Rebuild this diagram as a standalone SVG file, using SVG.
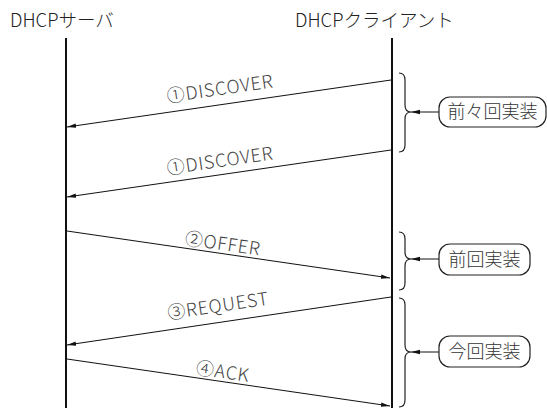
<svg xmlns="http://www.w3.org/2000/svg" width="547" height="408" viewBox="0 0 547 408">
<style>
text{font-family:"Noto Sans CJK JP","Noto Sans",sans-serif;fill:#333;font-weight:300;}
.title{font-size:18.5px;fill:#222;}
.lbl{font-size:18px;text-anchor:middle;letter-spacing:0.8px;fill:#444;}
.box text{font-size:18px;text-anchor:middle;}
.life{stroke:#111;stroke-width:2;fill:none;}
.msg{stroke:#111;stroke-width:1;fill:none;marker-end:url(#ah);}
.brace{stroke:#222;stroke-width:1.2;fill:none;}
.box rect{fill:#fff;stroke:#222;stroke-width:1.2;}
</style>
<defs>
<marker id="ah" markerWidth="10" markerHeight="6" refX="9" refY="3" orient="auto" markerUnits="userSpaceOnUse">
<path d="M0,0.8 L9,3 L0,5.2 Z" fill="#111"/>
</marker>
</defs>
<g id="server">
<text class="title" x="10" y="27">DHCPサーバ</text>
<line class="life" x1="66" y1="38" x2="66" y2="408"/>
</g>
<g id="client">
<text class="title" x="295" y="27">DHCPクライアント</text>
<line class="life" x1="392" y1="38" x2="392" y2="408"/>
</g>
<g id="connectors">
<line class="msg" x1="391" y1="80" x2="67" y2="127"/>
<text class="lbl" transform="translate(221,95) rotate(-8.28)">①DISCOVER</text>
<line class="msg" x1="391" y1="150" x2="67" y2="197"/>
<text class="lbl" transform="translate(221,167) rotate(-8.28)">①DISCOVER</text>
<line class="msg" x1="67" y1="231" x2="390" y2="278"/>
<text class="lbl" transform="translate(222,250) rotate(8.28)">②OFFER</text>
<line class="msg" x1="391" y1="297" x2="67" y2="345"/>
<text class="lbl" transform="translate(219,312) rotate(-8.45)">③REQUEST</text>
<line class="msg" x1="67" y1="359" x2="390" y2="406"/>
<text class="lbl" transform="translate(222,378) rotate(8.28)">④ACK</text>
<path class="brace" d="M399,73 Q405,73 405,80 L405,105 Q405,112 411,112 Q405,112 405,119 L405,145 Q405,152 399,152"/>
<path class="brace" d="M399,232 Q405,232 405,239 L405,252 Q405,259 411,259 Q405,259 405,266 L405,283 Q405,290 399,290"/>
<path class="brace" d="M399,298 Q405,298 405,305 L405,345 Q405,352 411,352 Q405,352 405,359 L405,400 Q405,407 399,407"/>
<line class="msg" x1="439" y1="112" x2="411" y2="112"/>
<line class="msg" x1="439" y1="259" x2="411" y2="259"/>
<line class="msg" x1="439" y1="352" x2="411" y2="352"/>
</g>
<g id="box1" class="box">
<rect x="439" y="97" width="107" height="30" rx="11"/>
<text x="492.5" y="118">前々回実装</text>
</g>
<g id="box2" class="box">
<rect x="439" y="244" width="91" height="31" rx="11"/>
<text x="484.5" y="266">前回実装</text>
</g>
<g id="box3" class="box">
<rect x="439" y="336" width="91" height="31" rx="11"/>
<text x="484.5" y="358">今回実装</text>
</g>
</svg>
